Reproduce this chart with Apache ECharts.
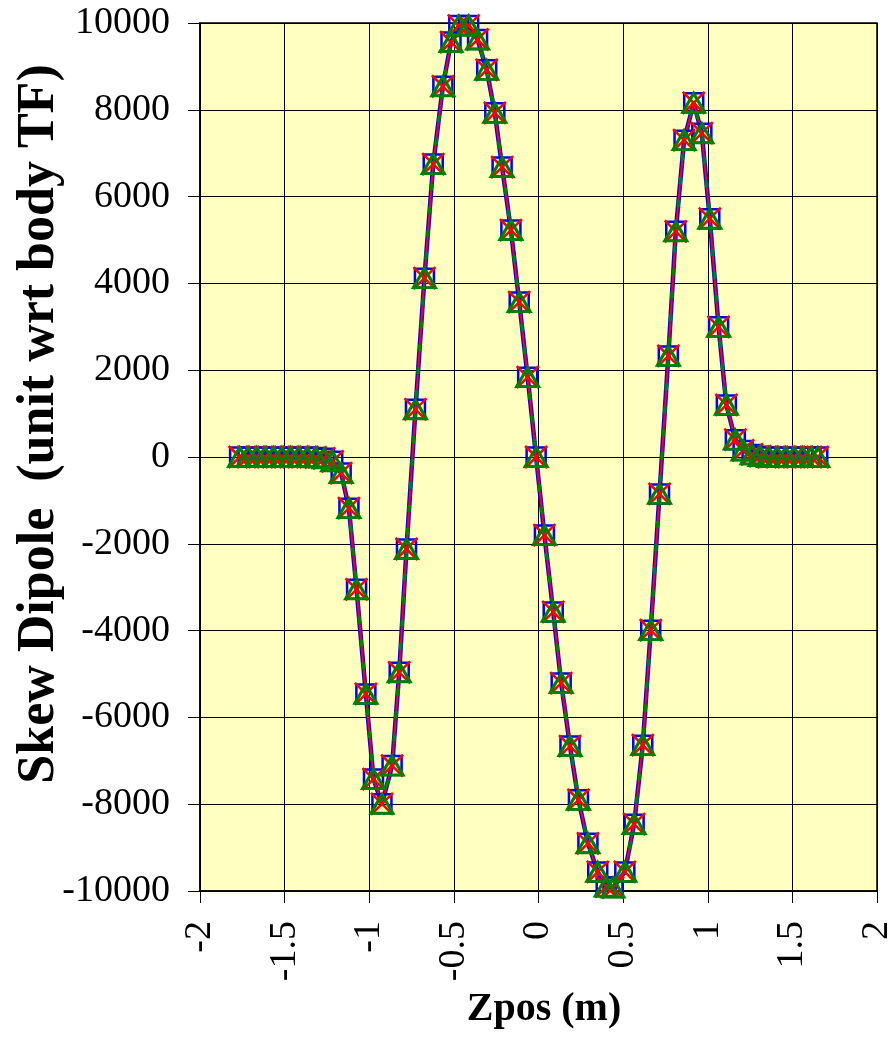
<!DOCTYPE html>
<html>
<head>
<meta charset="utf-8">
<style>
  html, body { margin: 0; padding: 0; background: #ffffff; }
  #chart { width: 896px; height: 1051px; }
</style>
<script src="https://cdn.jsdelivr.net/npm/echarts@6/dist/echarts.min.js"></script>
</head>
<body>
<div id="chart"></div>
<script>
// Longitudinal position of each measurement (m)
const zpos = [
  -1.766, -1.716, -1.666, -1.616, -1.566, -1.516, -1.466, -1.416, -1.366, -1.316,
  -1.266, -1.216, -1.166, -1.120, -1.075, -1.020, -0.975, -0.925, -0.865, -0.823,
  -0.780, -0.727, -0.674, -0.622, -0.565, -0.517, -0.471, -0.413, -0.360, -0.306,
  -0.258, -0.215, -0.163, -0.114, -0.064, -0.014, 0.035, 0.087, 0.134, 0.186,
  0.236, 0.292, 0.350, 0.400, 0.440, 0.510, 0.565, 0.616, 0.663, 0.715,
  0.767, 0.811, 0.860, 0.917, 0.965, 1.012, 1.064, 1.110, 1.163, 1.209,
  1.262, 1.310, 1.360, 1.410, 1.460, 1.510, 1.560, 1.610, 1.650
];

// Skew dipole, units relative to body transfer function
const skewA = [
  0, 0, 0, 0, 0, 0, 0, 0, 0, -10,
  -30, -100, -370, -1180, -3050, -5460, -7420, -7990, -7110, -4960,
  -2120, 1100, 4120, 6750, 8540, 9560, 9940, 9940, 9620, 8920,
  7930, 6680, 5230, 3570, 1840, 0, -1800, -3570, -5210, -6660,
  -7900, -8900, -9560, -9900, -9920, -9560, -8460, -6640, -3990, -850,
  2330, 5200, 7300, 8160, 7460, 5490, 3000, 1200, 400, 150,
  60, 20, 0, 0, 0, 0, 0, 0, 0
];
const skewB = skewA.slice();
const skewC = skewA.slice();

const xTicks = { min: -2, max: 2, step: 0.5 };
const yTicks = { min: -10000, max: 10000, step: 2000 };

const FONT = "'Liberation Serif', 'Times New Roman', serif";

function pairs(ys) { return zpos.map((z, i) => [z, ys[i]]); }

const chart = echarts.init(document.getElementById('chart'), null, { renderer: 'canvas' });

const crossPath = 'path://M0,0L10,10M10,0L0,10';

chart.setOption({
  animation: false,
  backgroundColor: '#ffffff',
  grid: {
    left: 200, right: 8, top: 23, bottom: 160,
    show: true, backgroundColor: '#FFFFC0',
    borderColor: '#000000', borderWidth: 1.5
  },
  xAxis: {
    type: 'value',
    min: xTicks.min, max: xTicks.max, interval: xTicks.step,
    axisLine: { show: true, onZero: false, lineStyle: { color: '#000', width: 1.5 } },
    axisTick: { show: true, inside: false, length: 12, lineStyle: { color: '#000', width: 1 } },
    splitLine: { show: true, lineStyle: { color: '#000', width: 1 } },
    axisLabel: {
      rotate: 90, margin: 30, color: '#000', fontFamily: FONT, fontSize: 38,
      formatter: v => String(v)
    }
  },
  yAxis: {
    type: 'value',
    min: yTicks.min, max: yTicks.max, interval: yTicks.step,
    axisLine: { show: true, onZero: false, lineStyle: { color: '#000', width: 1.5 } },
    axisTick: { show: true, inside: false, length: 12, lineStyle: { color: '#000', width: 1 } },
    splitLine: { show: true, lineStyle: { color: '#000', width: 1 } },
    axisLabel: {
      margin: 30, color: '#000', fontFamily: FONT, fontSize: 38,
      formatter: v => String(v)
    }
  },
  series: [
    {
      type: 'line', data: pairs(skewA),
      symbol: 'rect', symbolSize: 19,
      itemStyle: { color: 'none', borderColor: '#0000FF', borderWidth: 2.5 },
      lineStyle: { color: '#0000FF', width: 4.5 }
    },
    {
      type: 'line', data: pairs(skewB),
      symbol: crossPath, symbolSize: 22,
      itemStyle: { color: 'none', borderColor: '#FF0000', borderWidth: 2.5 },
      lineStyle: { color: '#FF0000', width: 2 }
    },
    {
      type: 'line', data: pairs(skewC),
      symbol: 'triangle', symbolSize: [22, 19],
      itemStyle: { color: 'none', borderColor: '#008000', borderWidth: 3 },
      lineStyle: { color: '#008000', width: 3.5, type: [7, 16] }
    }
  ],
  graphic: [
    {
      type: 'text', x: 40, y: 424, rotation: Math.PI / 2,
      style: {
        text: 'Skew Dipole  (unit wrt body TF)',
        font: "bold 52px " + FONT, fill: '#000',
        textAlign: 'center', textVerticalAlign: 'middle'
      }
    },
    {
      type: 'text', x: 544, y: 1010,
      style: {
        text: 'Zpos (m)',
        font: "bold 40px " + FONT, fill: '#000',
        textAlign: 'center', textVerticalAlign: 'middle'
      }
    }
  ]
});
</script>
</body>
</html>
